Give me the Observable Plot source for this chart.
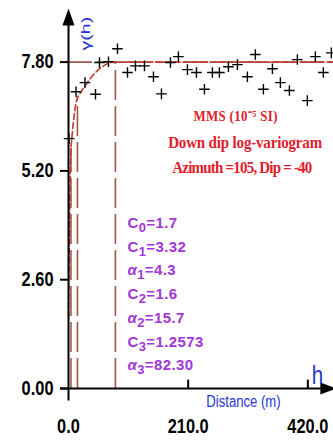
<!DOCTYPE html>
<html>
<head>
<meta charset="utf-8">
<script src="https://cdn.jsdelivr.net/npm/d3@7"></script>
<script src="https://cdn.jsdelivr.net/npm/@observablehq/plot@0.6"></script>
<style>
  body { margin: 0; background: #fff; }
  #chart svg { display: block; }
</style>
</head>
<body>
<div id="chart"></div>
<script>
// Experimental log-variogram (lag distance in m, gamma value)
const lagH = [1, 13.2, 28.9, 47.4, 54.4, 70.2, 85.9, 103.5, 117.5, 133.3, 149.1, 163.1,
  178.9, 192.9, 208.7, 224.5, 238.5, 252.5, 264.8, 280.6, 296.4, 313.9, 327.9, 342.0,
  357.8, 371.8, 387.6, 401.6, 419.1, 433.2, 447.2, 461.2];
const gamma = [5.97, 7.09, 7.31, 7.03, 7.79, 7.81, 8.12, 7.55, 7.71, 7.71, 7.45, 7.04,
  7.79, 7.93, 7.62, 7.55, 7.15, 7.55, 7.55, 7.69, 7.74, 7.45, 7.98, 7.15,
  7.64, 7.31, 7.12, 7.86, 6.88, 7.93, 7.55, 8.02];

// Fitted nested model curve
const modelH = [0, 1, 2, 3, 4.3, 8, 12, 15.7, 25, 35, 45, 55, 65, 75, 82.30, 465];
const modelG = [1.7, 3.0, 4.2, 5.1, 5.75, 6.3, 6.75, 6.95, 7.15, 7.35, 7.52, 7.65, 7.74, 7.79, 7.8, 7.8];

const sill = 7.8;
const rangeValues = [4.3, 15.7, 82.30];

const yTicks = [0, 2.6, 5.2, 7.8];
const xTicks = [0, 210, 420];

const titleLines = ["MMS (10\u207B\u2075 SI)", "Down dip log-variogram", "Azimuth =105, Dip = -40"];
const paramNames = ["C_0", "C_1", "\u03B1_1", "C_2", "\u03B1_2", "C_3", "\u03B1_3"];
const paramLabels = ["1.7", "3.32", "4.3", "1.6", "15.7", "1.2573", "82.30"];

const ink = "#000";
const brown = "#a0584a";
const curveRed = "#c43a2c";
const red = "#e0202c";
const purple = "#a236d8";
const blue = "#2536d0";
const sansFont = "'Liberation Sans',Arial,sans-serif";
const serifFont = "'Liberation Serif','Times New Roman',serif";

const fmtY = d3.format(".2f");
const fmtX = d3.format(".1f");

const points = lagH.map((h, i) => ({h, g: gamma[i]}));
const model = modelH.map((h, i) => ({h, g: modelG[i]}));
const ranges = rangeValues.map(a => ({a, top: modelG[modelH.indexOf(a)]}));
const params = paramNames.map((n, i) => ({label: n + "=" + paramLabels[i], row: i}));
const titles = titleLines.map((t, i) => ({t, row: i}));

// filled arrowheads for the axis ends
const arrowUp = { draw(ctx) { ctx.moveTo(0, 0); ctx.lineTo(6, 17); ctx.lineTo(-6, 17); ctx.closePath(); } };
const arrowRight = { draw(ctx) { ctx.moveTo(0, 0); ctx.lineTo(-16, 6); ctx.lineTo(-16, -6); ctx.closePath(); } };

const chart = Plot.plot({
  width: 333,
  height: 441,
  marginLeft: 68,
  marginRight: 0,
  marginTop: 3,
  marginBottom: 53,
  x: {domain: [0, 465]},
  y: {domain: [0, 9.2]},
  style: {background: "#fff", overflow: "visible"},
  marks: [
    Plot.ruleY([sill], {x1: 0, x2: 465, stroke: brown, strokeWidth: 1.6, strokeDasharray: "24,5"}),
    Plot.ruleX(ranges, {x: "a", y1: 0, y2: "top", stroke: brown, strokeWidth: 1.6, strokeDasharray: "30,6"}),
    Plot.line(model, {x: "h", y: "g", stroke: curveRed, strokeWidth: 1.6, strokeDasharray: "6,3"}),
    Plot.dot(points, {x: "h", y: "g", symbol: "plus", r: 3.5, stroke: ink, strokeWidth: 1.4}),

    // axis lines, ticks and arrowheads
    Plot.ruleY([0], {x1: -14, x2: 458, stroke: ink, strokeWidth: 2}),
    Plot.ruleX([0], {y1: -0.3, y2: 8.9, stroke: ink, strokeWidth: 2}),
    Plot.ruleX(xTicks.filter(t => t > 0), {y1: 0, y2: 0.2, stroke: ink, strokeWidth: 2}),
    Plot.dot([0], {x: 0, y: 9.08, symbol: arrowUp, fill: ink, stroke: "none"}),
    Plot.dot([0], {x: 470, y: 0, symbol: arrowRight, fill: ink, stroke: "none"}),
    Plot.axisY(yTicks, {tickSize: 8, tickPadding: 7, tickFormat: fmtY, strokeWidth: 2,
      fontSize: 20, fontWeight: "bold", fontFamily: sansFont, fill: ink, label: null}),
    Plot.axisX(xTicks, {tickSize: 0, tickPadding: 30, tickFormat: fmtX,
      fontSize: 20, fontWeight: "bold", fontFamily: sansFont, fill: ink, label: null}),

    // axis titles
    Plot.text(["\u03B3(h)"], {x: 30, y: 8.48, rotate: -90, fill: blue, fontSize: 13, fontFamily: sansFont}),
    Plot.text(["Distance (m)"], {x: 307, y: -0.33, fill: blue, fontSize: 16, fontFamily: sansFont}),
    Plot.text(["h"], {x: 437, y: 0.29, fill: blue, fontSize: 25, fontFamily: sansFont}),

    // headline block
    Plot.text(titles, {x: d => [293, 310, 305][d.row], y: d => 6.5 - d.row * 0.61, text: "t",
      fill: red, fontSize: d => d.row === 0 ? 13 : 15, fontWeight: "bold", fontFamily: serifFont}),

    // model parameters
    Plot.text(params, {x: 103.5, y: d => 3.95 - d.row * 0.567, text: "label", textAnchor: "start",
      fill: purple, fontSize: 15, fontWeight: "bold", fontFamily: sansFont})
  ]
});

// stretch or condense selected labels around their anchor point
function stretch(test, sx, sy, extra) {
  chart.querySelectorAll("text").forEach(t => {
    if (!test(t.textContent)) return;
    let tr = t.getAttribute("transform");
    if (!tr) {
      const x = t.getAttribute("x") || 0, y = t.getAttribute("y") || 0;
      t.removeAttribute("x"); t.removeAttribute("y");
      tr = `translate(${x},${y})`;
    }
    t.setAttribute("transform", `${tr} scale(${sx},${sy})`);
    if (extra) extra(t);
  });
}
const tickTexts = new Set([...yTicks.map(fmtY), ...xTicks.map(fmtX)]);
stretch(s => tickTexts.has(s), 0.82, 1);
stretch(s => s === "Distance (m)" || s === "h", 0.82, 1);
stretch(s => s === "\u03B3(h)", 1.5, 1);
// headline lines are spread to fixed widths
const headWidths = [84, 154, 140];
stretch(s => titleLines.includes(s), 1, 1.15, t => {
  t.setAttribute("textLength", headWidths[titleLines.indexOf(t.textContent)]);
  t.setAttribute("lengthAdjust", "spacing");
});

// turn "X_n" into a letter with a lowered index digit
const ns = "http://www.w3.org/2000/svg";
chart.querySelectorAll("text").forEach(t => {
  const m = t.textContent.match(/^(.)_(\d)(.*)$/);
  if (!m) return;
  t.textContent = "";
  t.setAttribute("letter-spacing", "0.4");
  const a = document.createElementNS(ns, "tspan");
  a.textContent = m[1];
  if (m[1] === "\u03B1") a.setAttribute("font-style", "italic");
  const b = document.createElementNS(ns, "tspan");
  b.textContent = m[2];
  b.setAttribute("dy", "4");
  b.setAttribute("font-size", "13");
  const c = document.createElementNS(ns, "tspan");
  c.textContent = m[3];
  c.setAttribute("dy", "-4");
  t.append(a, b, c);
});

document.getElementById("chart").append(chart);
</script>
</body>
</html>
